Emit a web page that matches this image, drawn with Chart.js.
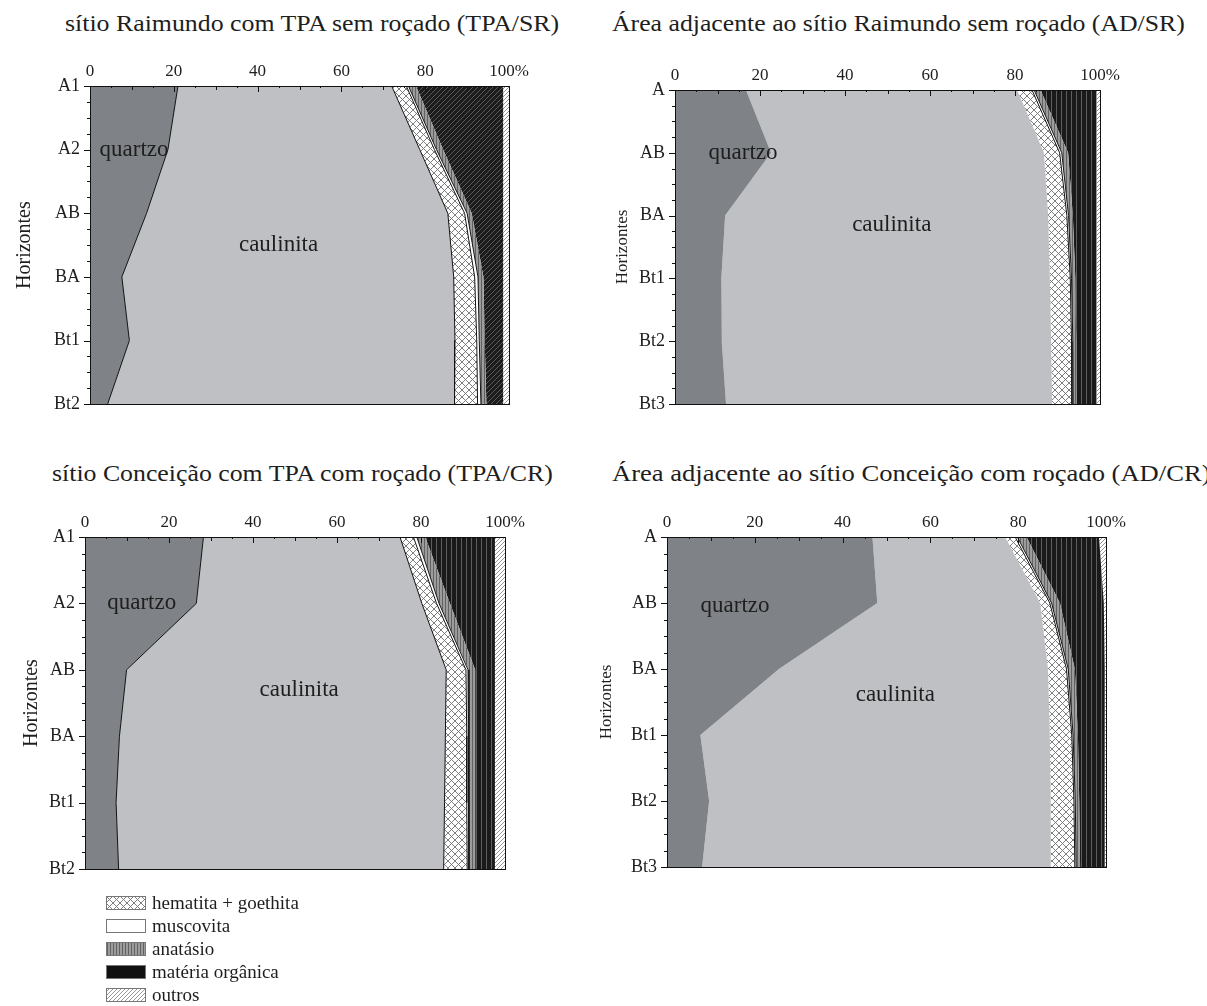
<!DOCTYPE html>
<html lang="pt">
<head>
<meta charset="utf-8">
<title>Mineralogia da fração argila</title>
<script src="https://cdn.jsdelivr.net/npm/chart.js@4.4.1/dist/chart.umd.min.js"></script>
<style>
  body { margin: 0; background: #fff; }
  #folha { position: relative; width: 1207px; height: 1006px; overflow: hidden; font-family: "Liberation Serif", "Times New Roman", serif; color: #1e1e1e; }
  .titulo { position: absolute; font-size: 24px; line-height: 24px; white-space: nowrap; transform-origin: 0 50%; }
  .painel { position: absolute; }
  #legenda { position: absolute; left: 106px; top: 891px; font-size: 19px; line-height: 19px; }
  .item { height: 23px; display: flex; align-items: center; }
  .item canvas { margin-right: 6px; }
</style>
</head>
<body>
<div id="folha">
  <div class="titulo" data-largura="494" style="left:65px;top:11px">sítio Raimundo com TPA sem roçado (TPA/SR)</div>
  <div class="titulo" data-largura="573" style="left:612px;top:11px">Área adjacente ao sítio Raimundo sem roçado (AD/SR)</div>
  <div class="titulo" data-largura="501" style="left:52px;top:461px">sítio Conceição com TPA com roçado (TPA/CR)</div>
  <div class="titulo" data-largura="598" style="left:612px;top:461px">Área adjacente ao sítio Conceição com roçado (AD/CR)</div>

  <canvas class="painel" id="tpaSr" width="540" height="385" style="left:0;top:40px"></canvas>
  <canvas class="painel" id="adSr" width="540" height="385" style="left:600px;top:40px"></canvas>
  <canvas class="painel" id="tpaCr" width="540" height="400" style="left:0;top:490px"></canvas>
  <canvas class="painel" id="adCr" width="560" height="400" style="left:590px;top:490px"></canvas>

  <div id="legenda"></div>
</div>
<script>
'use strict';

const minerais = ['quartzo', 'caulinita', 'hematita + goethita', 'muscovita', 'anatásio', 'matéria orgânica', 'outros'];
const ticksPercent = [0, 20, 40, 60, 80, 100];

// sítio Raimundo com TPA sem roçado (TPA/SR)
const horizontesTpaSr = ['A1', 'A2', 'AB', 'BA', 'Bt1', 'Bt2'];
const quartzoTpaSr    = [21.0, 18.6, 13.5, 7.6, 9.4, 4.2];
const caulinitaTpaSr  = [51.0, 60.1, 71.9, 79.2, 77.7, 82.8];
const hematitaTpaSr   = [3.5, 3.5, 4.0, 5.0, 5.2, 5.5];
const muscovitaTpaSr  = [0.5, 0.5, 0.6, 0.8, 0.6, 0.8];
const anatasioTpaSr   = [1.8, 1.6, 1.1, 1.3, 1.3, 1.3];
const materiaTpaSr    = [20.8, 14.3, 7.5, 4.7, 4.4, 4.0];
const outrosTpaSr     = [1.4, 1.4, 1.4, 1.4, 1.4, 1.4];

// Área adjacente ao sítio Raimundo sem roçado (AD/SR)
const horizontesAdSr = ['A', 'AB', 'BA', 'Bt1', 'Bt2', 'Bt3'];
const quartzoAdSr    = [16.7, 22.6, 11.8, 10.9, 11.0, 12.0];
const caulinitaAdSr  = [63.8, 64.2, 76.0, 77.3, 77.5, 76.7];
const hematitaAdSr   = [3.5, 3.7, 4.4, 4.8, 4.8, 4.7];
const muscovitaAdSr  = [0.5, 0.5, 0.4, 0.3, 0.3, 0.3];
const anatasioAdSr   = [1.5, 1.5, 1.0, 0.9, 0.8, 0.8];
const materiaAdSr    = [13.2, 6.7, 5.6, 5.0, 4.8, 4.7];
const outrosAdSr     = [0.8, 0.8, 0.8, 0.8, 0.8, 0.8];

// sítio Conceição com TPA com roçado (TPA/CR)
const horizontesTpaCr = ['A1', 'A2', 'AB', 'BA', 'Bt1', 'Bt2'];
const quartzoTpaCr    = [28.2, 26.5, 9.9, 8.2, 7.4, 8.0];
const caulinitaTpaCr  = [46.8, 53.7, 76.1, 77.6, 78.2, 77.4];
const hematitaTpaCr   = [3.2, 3.5, 4.7, 5.1, 5.3, 5.6];
const muscovitaTpaCr  = [0.8, 0.6, 0.5, 0.5, 0.5, 0.4];
const anatasioTpaCr   = [2.0, 2.6, 1.7, 1.5, 1.5, 1.5];
const materiaTpaCr    = [16.6, 10.7, 4.7, 4.7, 4.7, 4.7];
const outrosTpaCr     = [2.4, 2.4, 2.4, 2.4, 2.4, 2.4];

// Área adjacente ao sítio Conceição com roçado (AD/CR)
const horizontesAdCr = ['A', 'AB', 'BA', 'Bt1', 'Bt2', 'Bt3'];
const quartzoAdCr    = [46.8, 47.9, 25.5, 7.6, 9.6, 8.0];
const caulinitaAdCr  = [30.2, 37.1, 61.3, 79.6, 77.8, 79.4];
const hematitaAdCr   = [2.3, 2.2, 4.2, 5.0, 5.3, 5.5];
const muscovitaAdCr  = [0.5, 0.4, 0.4, 0.3, 0.3, 0.3];
const anatasioAdCr   = [2.1, 1.9, 1.5, 1.1, 0.9, 0.9];
const materiaAdCr    = [16.5, 10.0, 6.8, 6.1, 5.8, 5.6];
const outrosAdCr     = [1.6, 0.5, 0.3, 0.3, 0.3, 0.3];

// --- padrões de preenchimento ---
function padrao(w, h, desenhar) {
    const c = document.createElement('canvas');
    c.width = w; c.height = h;
    const g = c.getContext('2d');
    desenhar(g, w, h);
    return g.createPattern(c, 'repeat');
}

function diagonal(fundo, traco, passo, larg) {
    return padrao(passo, passo, (g, w, h) => {
        g.fillStyle = fundo; g.fillRect(0, 0, w, h);
        g.strokeStyle = traco; g.lineWidth = larg;
        g.beginPath();
        g.moveTo(-1, h + 1); g.lineTo(w + 1, -1);
        g.moveTo(-1, 1); g.lineTo(1, -1);
        g.moveTo(w - 1, h + 1); g.lineTo(w + 1, h - 1);
        g.stroke();
    });
}

function listras(fundo, traco, passo) {
    return padrao(passo, 1, (g, w) => {
        g.fillStyle = fundo; g.fillRect(0, 0, w, 1);
        g.fillStyle = traco; g.fillRect(1, 0, 1, 1);
    });
}

const cruzado = padrao(7, 7, (g, w, h) => {
    g.fillStyle = '#ffffff'; g.fillRect(0, 0, w, h);
    g.strokeStyle = '#707070'; g.lineWidth = 0.9;
    g.beginPath();
    g.moveTo(0, 0); g.lineTo(w, h);
    g.moveTo(w, 0); g.lineTo(0, h);
    g.stroke();
});

const corQuartzo = '#7f8286';
const corCaulinita = '#bec0c3';
const anatasioPadrao = listras('#9c9c9c', '#626262', 3);
const materiaListrada = listras('#1a1a1a', '#5e5e5e', 5);
const materiaDiagonal = diagonal('#1c1c1c', '#5a5a5a', 5, 1);
const outrosPadrao = diagonal('#ffffff', '#8a8a8a', 4, 0.9);

function preenchimentos(materia) {
    return [corQuartzo, corCaulinita, cruzado, '#ffffff', anatasioPadrao, materia, outrosPadrao];
}

// --- plugins ---
const moldura = {
    id: 'moldura',
    afterDraw(chart) {
        const { ctx, chartArea: a, scales: { x, y } } = chart;
        ctx.save();
        ctx.strokeStyle = '#111';
        ctx.lineWidth = 1;
        ctx.strokeRect(Math.round(a.left) + 0.5, Math.round(a.top) + 0.5,
            Math.round(a.right - a.left), Math.round(a.bottom - a.top));
        ctx.beginPath();
        for (let v = 0; v <= 100; v += 5) {
            const px = Math.round(x.getPixelForValue(v)) + 0.5;
            const len = v % 20 === 0 ? 6 : (v % 10 === 0 ? 4 : 2);
            ctx.moveTo(px, a.top); ctx.lineTo(px, a.top + len);
        }
        const n = chart.data.labels.length;
        for (let i = 0; i <= (n - 1) * 4; i++) {
            const py = Math.round(y.getPixelForValue(i / 4)) + 0.5;
            const len = i % 4 === 0 ? 6 : 3;
            ctx.moveTo(a.left - len, py); ctx.lineTo(a.left, py);
        }
        ctx.stroke();
        ctx.restore();
    }
};

const rotulos = {
    id: 'rotulos',
    afterDatasetsDraw(chart, args, opts) {
        const { ctx, scales: { x, y } } = chart;
        ctx.save();
        ctx.font = '23px "Liberation Serif", "Times New Roman", serif';
        ctx.fillStyle = '#1e1e1e';
        ctx.textAlign = 'center';
        ctx.textBaseline = 'middle';
        (opts.itens || []).forEach(r => {
            ctx.fillText(r.texto, x.getPixelForValue(r.x), y.getPixelForValue(r.y));
        });
        ctx.restore();
    }
};

const fonteSerif = '"Liberation Serif", "Times New Roman", serif';

function montarPainel(p) {
    const ctx = document.getElementById(p.id).getContext('2d');
    const fundos = preenchimentos(p.materia);
    return new Chart(ctx, {
        type: 'line',
        data: {
            labels: p.horizontes,
            datasets: p.series.map((valores, i) => ({
                label: minerais[i],
                data: valores,
                fill: i === 0 ? 'origin' : '-1',
                backgroundColor: fundos[i],
                borderColor: p.bordas[i] ? '#141414' : 'rgba(0,0,0,0)',
                borderWidth: 1,
                pointRadius: 0,
                tension: 0
            }))
        },
        options: {
            indexAxis: 'y',
            responsive: false,
            animation: false,
            layout: { padding: { top: 0, left: 0, right: p.direita, bottom: p.baixo } },
            scales: {
                x: {
                    type: 'linear', position: 'top', stacked: true,
                    min: 0, max: 100,
                    afterBuildTicks: s => { s.ticks = ticksPercent.map(v => ({ value: v })); },
                    afterFit: s => { s.height = p.alturaX; },
                    grid: { display: false, drawTicks: false }, border: { display: false },
                    ticks: {
                        padding: 4, color: '#1e1e1e',
                        font: { family: fonteSerif, size: 17 },
                        callback: v => v === 100 ? '100%' : String(v)
                    }
                },
                y: {
                    type: 'category', stacked: true, offset: false,
                    afterFit: s => { s.width = p.larguraY; },
                    grid: { display: false, drawTicks: false }, border: { display: false },
                    ticks: {
                        padding: 10, color: '#1e1e1e',
                        font: { family: fonteSerif, size: 18 }
                    },
                    title: {
                        display: true, text: 'Horizontes', color: '#1e1e1e',
                        font: { family: fonteSerif, size: p.tituloY },
                        padding: { top: p.tituloPad, bottom: 0 }
                    }
                }
            },
            plugins: {
                legend: { display: false },
                tooltip: { enabled: false },
                rotulos: { itens: p.rotulos }
            }
        },
        plugins: [moldura, rotulos]
    });
}

const paineis = [
    {
        id: 'tpaSr', horizontes: horizontesTpaSr,
        series: [quartzoTpaSr, caulinitaTpaSr, hematitaTpaSr, muscovitaTpaSr, anatasioTpaSr, materiaTpaSr, outrosTpaSr],
        materia: materiaDiagonal, bordas: [1, 1, 1, 1, 0, 0, 0],
        larguraY: 90, alturaX: 46, direita: 31, baixo: 18, tituloY: 20, tituloPad: 13,
        rotulos: [{ texto: 'quartzo', x: 10.5, y: 1 }, { texto: 'caulinita', x: 45, y: 2.5 }]
    },
    {
        id: 'adSr', horizontes: horizontesAdSr,
        series: [quartzoAdSr, caulinitaAdSr, hematitaAdSr, muscovitaAdSr, anatasioAdSr, materiaAdSr, outrosAdSr],
        materia: materiaListrada, bordas: [0, 0, 1, 1, 0, 0, 0],
        larguraY: 75, alturaX: 50, direita: 40, baixo: 21, tituloY: 17, tituloPad: 12,
        rotulos: [{ texto: 'quartzo', x: 16, y: 1 }, { texto: 'caulinita', x: 51, y: 2.15 }]
    },
    {
        id: 'tpaCr', horizontes: horizontesTpaCr,
        series: [quartzoTpaCr, caulinitaTpaCr, hematitaTpaCr, muscovitaTpaCr, anatasioTpaCr, materiaTpaCr, outrosTpaCr],
        materia: materiaListrada, bordas: [1, 1, 1, 1, 0, 0, 0],
        larguraY: 85, alturaX: 47, direita: 35, baixo: 21, tituloY: 20, tituloPad: 20,
        rotulos: [{ texto: 'quartzo', x: 13.5, y: 1 }, { texto: 'caulinita', x: 51, y: 2.3 }]
    },
    {
        id: 'adCr', horizontes: horizontesAdCr,
        series: [quartzoAdCr, caulinitaAdCr, hematitaAdCr, muscovitaAdCr, anatasioAdCr, materiaAdCr, outrosAdCr],
        materia: materiaListrada, bordas: [0, 0, 1, 1, 0, 0, 0],
        larguraY: 77, alturaX: 47, direita: 44, baixo: 23, tituloY: 17, tituloPad: 6,
        rotulos: [{ texto: 'quartzo', x: 15.5, y: 1.05 }, { texto: 'caulinita', x: 52, y: 2.4 }]
    }
];

paineis.forEach(montarPainel);

// títulos ajustados à largura medida na figura
document.querySelectorAll('.titulo').forEach(el => {
    const alvo = Number(el.dataset.largura);
    el.style.transform = `scaleX(${alvo / el.offsetWidth})`;
});

// legenda
const legendaItens = [
    { texto: 'hematita + goethita', fundo: cruzado },
    { texto: 'muscovita', fundo: '#ffffff' },
    { texto: 'anatásio', fundo: anatasioPadrao },
    { texto: 'matéria orgânica', fundo: '#111111' },
    { texto: 'outros', fundo: outrosPadrao }
];
const legendaNode = document.getElementById('legenda');
legendaItens.forEach(item => {
    const linha = document.createElement('div');
    linha.className = 'item';
    const amostra = document.createElement('canvas');
    amostra.width = 40; amostra.height = 14;
    const g = amostra.getContext('2d');
    g.fillStyle = item.fundo; g.fillRect(0, 0, 40, 14);
    g.strokeStyle = '#777'; g.lineWidth = 1; g.strokeRect(0.5, 0.5, 39, 13);
    linha.appendChild(amostra);
    linha.appendChild(document.createTextNode(item.texto));
    legendaNode.appendChild(linha);
});
</script>
</body>
</html>
